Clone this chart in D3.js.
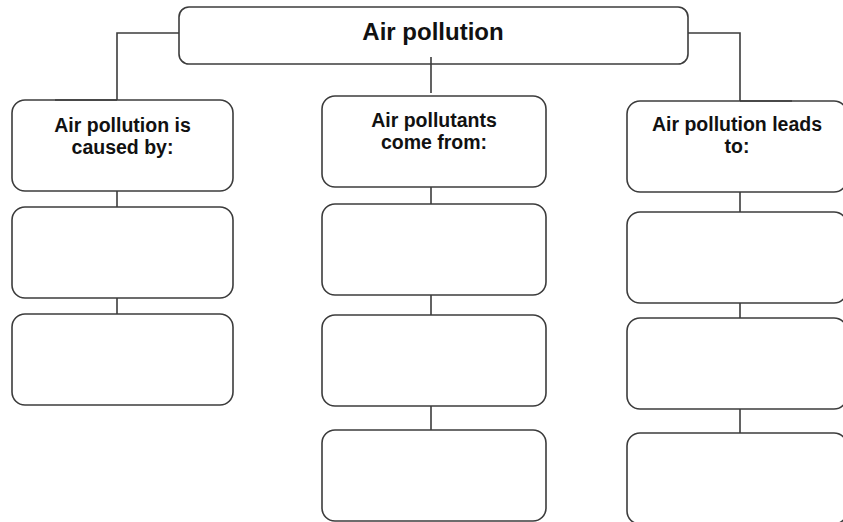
<!DOCTYPE html>
<html>
<head>
<meta charset="utf-8">
<script src="https://cdn.jsdelivr.net/npm/d3@7"></script>
<style>
    body { margin: 0; background: #fff; }
    svg { display: block; }
    text { font-family: "Liberation Sans", Arial, sans-serif; font-weight: bold; fill: #111; }
</style>
</head>
<body>
<div id="chart"></div>
<script>
// diagram content
var title = 'Air pollution';
var headings = [
    ['Air pollution is', 'caused by:'],
    ['Air pollutants', 'come from:'],
    ['Air pollution leads', 'to:']
];
var emptyBoxes = [2, 3, 3];

var width = 843, height = 522;
var stroke = '#3c3c3c';

var svg = d3.select('#chart').append('svg')
    .attr('width', width)
    .attr('height', height);

// column layout
var colLeft = d3.scaleOrdinal().domain([0, 1, 2]).range([12, 322, 627]);
var colWidth = d3.scaleOrdinal().domain([0, 1, 2]).range([221, 224, 220]);
var colLink = d3.scaleOrdinal().domain([0, 1, 2]).range([117, 431, 740]);
// row tops per column (boxes drift a little in the original)
var rowTops = d3.scaleOrdinal().domain([0, 1, 2]).range([
    [100, 207, 314],
    [96, 204, 315, 430],
    [101, 212, 318, 433]
]);
var textOffset = d3.scaleOrdinal().domain([0, 1, 2]).range([32, 31, 30]);
var boxH = 91;

function rowY(c, r) {
    return rowTops(c)[r];
}

var g = svg.append('g');

// title box
var tb = { x: 179, y: 7, w: 509, h: 57 };
g.append('rect')
    .attr('x', tb.x).attr('y', tb.y).attr('width', tb.w).attr('height', tb.h)
    .attr('rx', 10)
    .attr('fill', 'none').attr('stroke', stroke).attr('stroke-width', 1.6);
g.append('text')
    .attr('x', tb.x + tb.w / 2 - 0.5).attr('y', 40)
    .attr('text-anchor', 'middle')
    .style('font-size', '24px')
    .text(title);

// connectors from title box
var link = d3.path();
link.moveTo(tb.x, 33); link.lineTo(colLink(0), 33); link.lineTo(colLink(0), rowY(0, 0));
link.moveTo(55, rowY(0, 0)); link.lineTo(colLink(0), rowY(0, 0));
link.moveTo(tb.x + tb.w, 33); link.lineTo(colLink(2), 33); link.lineTo(colLink(2), rowY(2, 0));
link.moveTo(colLink(2), rowY(2, 0)); link.lineTo(792, rowY(2, 0));
link.moveTo(colLink(1), 57); link.lineTo(colLink(1), 93);
g.append('path').attr('d', link.toString())
    .attr('fill', 'none').attr('stroke', stroke).attr('stroke-width', 1.6);

// columns
headings.forEach(function (lines, c) {
    var n = emptyBoxes[c] + 1;
    var rows = d3.range(n);
    var col = g.append('g');

    // links between boxes
    col.selectAll('line').data(rows.slice(1)).join('line')
        .attr('x1', colLink(c)).attr('x2', colLink(c))
        .attr('y1', function (r) { return rowY(c, r - 1) + boxH; })
        .attr('y2', function (r) { return rowY(c, r); })
        .attr('stroke', stroke).attr('stroke-width', 1.6);

    col.selectAll('rect').data(rows).join('rect')
        .attr('x', colLeft(c))
        .attr('y', function (r) { return rowY(c, r); })
        .attr('width', colWidth(c))
        .attr('height', boxH)
        .attr('rx', 13)
        .attr('fill', 'none').attr('stroke', stroke).attr('stroke-width', 1.6);

    col.selectAll('text').data(lines).join('text')
        .attr('x', colLeft(c) + colWidth(c) / 2)
        .attr('y', function (d, i) { return rowY(c, 0) + textOffset(c) + i * 22; })
        .attr('text-anchor', 'middle')
        .style('font-size', '19.5px')
        .text(function (d) { return d; });
});
</script>
</body>
</html>
